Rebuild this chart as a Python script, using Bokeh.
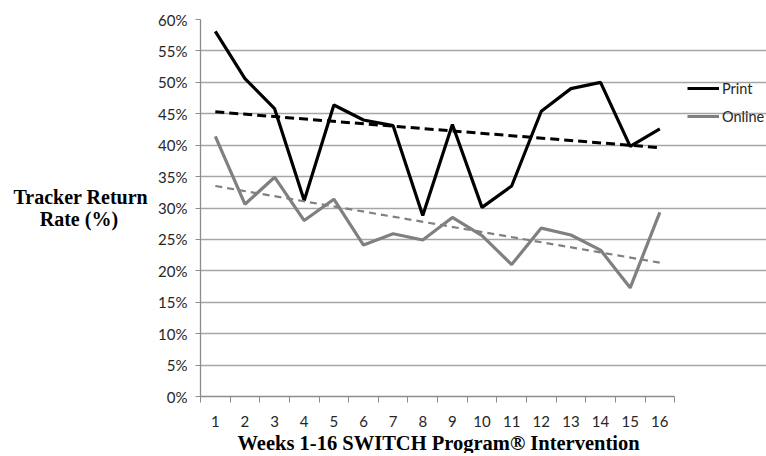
from bokeh.plotting import figure
from bokeh.models import (FixedTicker, PrintfTickFormatter, Legend, LegendItem, Range1d, Title)
from bokeh.embed import file_html
from bokeh.resources import INLINE

weeks = list(range(1, 17))
print_rate = [58.1, 50.6, 45.8, 31.2, 46.4, 44.0, 43.1, 28.8, 43.3, 30.1, 33.5, 45.4, 49.0, 50.0, 39.8, 42.6]
online_rate = [41.4, 30.6, 34.9, 28.0, 31.4, 24.1, 25.9, 24.9, 28.5, 25.6, 21.0, 26.8, 25.7, 23.3, 17.3, 29.3]
trend_weeks = [1, 16]
print_trend = [45.3, 39.6]
online_trend = [33.5, 21.3]
y_ticks = list(range(0, 65, 5))

NBSP = "\u00a0"

# frame extends to the right edge so the legend can sit inside it
p = figure(width=766, height=453, output_backend="svg", toolbar_location=None,
           x_range=Range1d(0.5, 19.6), y_range=Range1d(0, 60),
           min_border_left=200, min_border_right=0, min_border_top=19, min_border_bottom=57)
p.outline_line_color = None
p.background_fill_color = "white"

# grid
p.xgrid.grid_line_color = None
p.ygrid.grid_line_color = "#a6a6a6"
p.ygrid.grid_line_width = 1.3
p.ygrid.ticker = FixedTicker(ticks=y_ticks)
p.ygrid.bounds = (0.5, 16.5)

# y axis
p.yaxis.ticker = FixedTicker(ticks=y_ticks)
p.yaxis.formatter = PrintfTickFormatter(format="%d%%")
p.yaxis.axis_line_color = "#8c8c8c"
p.yaxis.axis_line_width = 1.3
p.yaxis.major_tick_line_color = "#8c8c8c"
p.yaxis.major_tick_out = 5
p.yaxis.major_tick_in = 0
p.yaxis.minor_tick_line_color = None
p.yaxis.major_label_text_font = "Lato"
p.yaxis.major_label_text_font_size = "15px"
p.yaxis.major_label_text_color = "#262626"
p.yaxis.major_label_standoff = 8
p.yaxis.axis_label = "Tracker Return\nRate (%)" + NBSP * 6
p.yaxis.axis_label_orientation = "horizontal"
p.yaxis.axis_label_text_font = "Liberation Serif"
p.yaxis.axis_label_text_font_style = "bold"
p.yaxis.axis_label_text_font_size = "20px"
p.yaxis.axis_label_text_line_height = 1.0
p.yaxis.axis_label_text_color = "black"
p.yaxis.axis_label_standoff = 7

# x axis
p.xaxis.bounds = (0.5, 16.5)
p.xaxis.ticker = FixedTicker(ticks=weeks, minor_ticks=[w + 0.5 for w in range(0, 17)])
p.xaxis.axis_line_color = "#8c8c8c"
p.xaxis.axis_line_width = 1.3
p.xaxis.major_tick_line_color = None
p.xaxis.major_tick_out = 0
p.xaxis.major_tick_in = 0
p.xaxis.minor_tick_line_color = "#8c8c8c"
p.xaxis.minor_tick_out = 6
p.xaxis.minor_tick_in = 0
p.xaxis.major_label_text_font = "Lato"
p.xaxis.major_label_text_font_size = "15px"
p.xaxis.major_label_text_color = "#262626"
p.xaxis.major_label_standoff = 13

x_title = Title(text="Weeks 1-16 SWITCH Program® Intervention", align="left", offset=37,
                text_font="Liberation Serif", text_font_style="bold",
                text_font_size="20.5px", text_color="black", standoff=0)
p.add_layout(x_title, "below")

r_print = p.line(weeks, print_rate, line_color="black", line_width=3.2)
r_online = p.line(weeks, online_rate, line_color="#808080", line_width=3.2)
p.line(trend_weeks, print_trend, line_color="black", line_width=3, line_dash="9 5")
p.line(trend_weeks, online_trend, line_color="#808080", line_width=2.2, line_dash="7 5")

legend = Legend(items=[LegendItem(label="Print", renderers=[r_print]),
                       LegendItem(label="Online", renderers=[r_online])],
                location=(487, 270), orientation="vertical",
                glyph_width=32, glyph_height=20, label_height=20, spacing=8,
                padding=0, margin=0, label_standoff=3,
                label_text_font="Lato", label_text_font_size="14.5px",
                label_text_color="#262626",
                border_line_color=None, background_fill_alpha=0)
p.add_layout(legend, "center")

open("out.html", "w").write(file_html(p, INLINE))
